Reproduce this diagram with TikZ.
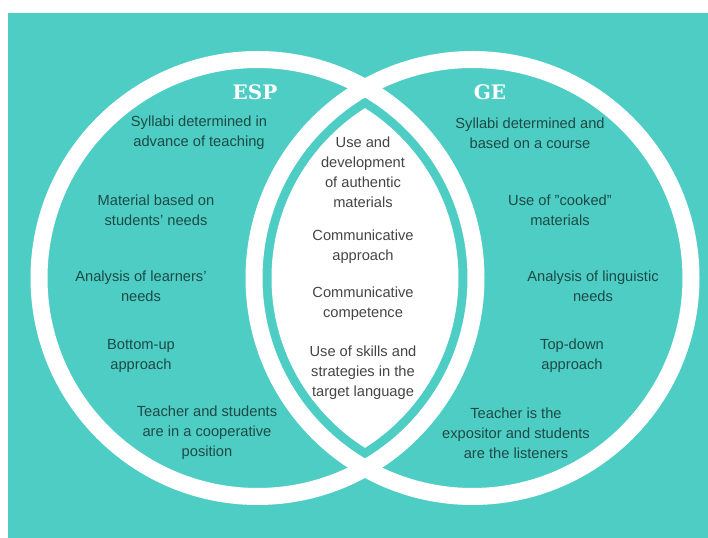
\documentclass[tikz,border=0pt]{standalone}
\usepackage{fontspec}
\setmainfont{Liberation Sans}
\newfontfamily\titlefont{DejaVu Serif}
\usepackage{xcolor}
\usepackage{tikz}
\definecolor{tealbg}{HTML}{4ECDC4}
\definecolor{ink}{HTML}{1D4A46}
\definecolor{lensink}{HTML}{454545}

\begin{document}
\begin{tikzpicture}[
    x=0.75pt, y=0.75pt,
    venntxt/.style={align=center, text=ink, inner sep=0pt,
                    font=\fontsize{11}{15}\selectfont},
    lenstxt/.style={venntxt, text=lensink},
    title/.style={text=white, inner sep=0pt,
                  font=\titlefont\bfseries\fontsize{15}{18}\selectfont},
    ring/.style={draw=white, line width=12.75pt},
]
    % background
    \fill[white] (0,0) rectangle (708,538);
    \fill[tealbg] (8,0) rectangle (708,525);
    \useasboundingbox (0,0) rectangle (708,538);

    % the two circles and the lens
    \coordinate (espc) at (257.5,260);
    \coordinate (gec)  at (472.5,260);
    \draw[ring] (espc) circle (218.5);
    \draw[ring] (gec)  circle (218.5);
    \begin{scope}
        \clip (espc) circle (201);
        \fill[white] (gec) circle (201);
    \end{scope}

    % ESP
    \node[title] (esp) at (255,446) {ESP};
    \node[venntxt] (sylA) at (199,405) {Syllabi determined in\\advance of teaching};
    \node[venntxt] (matA) at (156,328) {Material based on\\students' needs};
    \node[venntxt] (anaA) at (141,252) {Analysis of learners'\\needs};
    \node[venntxt] (botA) at (141,182) {Bottom-up\\approach};
    \node[venntxt] (teaA) at (207,105) {Teacher and students\\are in a cooperative\\position};

    % GE
    \node[title] (ge) at (490,446) {GE};
    \node[venntxt] (sylB) at (530,405) {Syllabi determined and\\based on a course};
    \node[venntxt] (matB) at (560,328) {Use of "cooked"\\materials};
    \node[venntxt] (anaB) at (593,252) {Analysis of linguistic\\needs};
    \node[venntxt] (topB) at (572,182) {Top-down\\approach};
    \node[venntxt] (teaB) at (516,105) {Teacher is the\\expositor and students\\are the listeners};

    % common ground
    \node[lenstxt] (auth) at (363,365.5) {Use and\\development\\of authentic\\materials};
    \node[lenstxt] (cappr) at (363,291) {Communicative\\approach};
    \node[lenstxt] (ccomp) at (363,234) {Communicative\\competence};
    \node[lenstxt] (skill) at (363,165) {Use of skills and\\strategies in the\\target language};
\end{tikzpicture}
\end{document}
